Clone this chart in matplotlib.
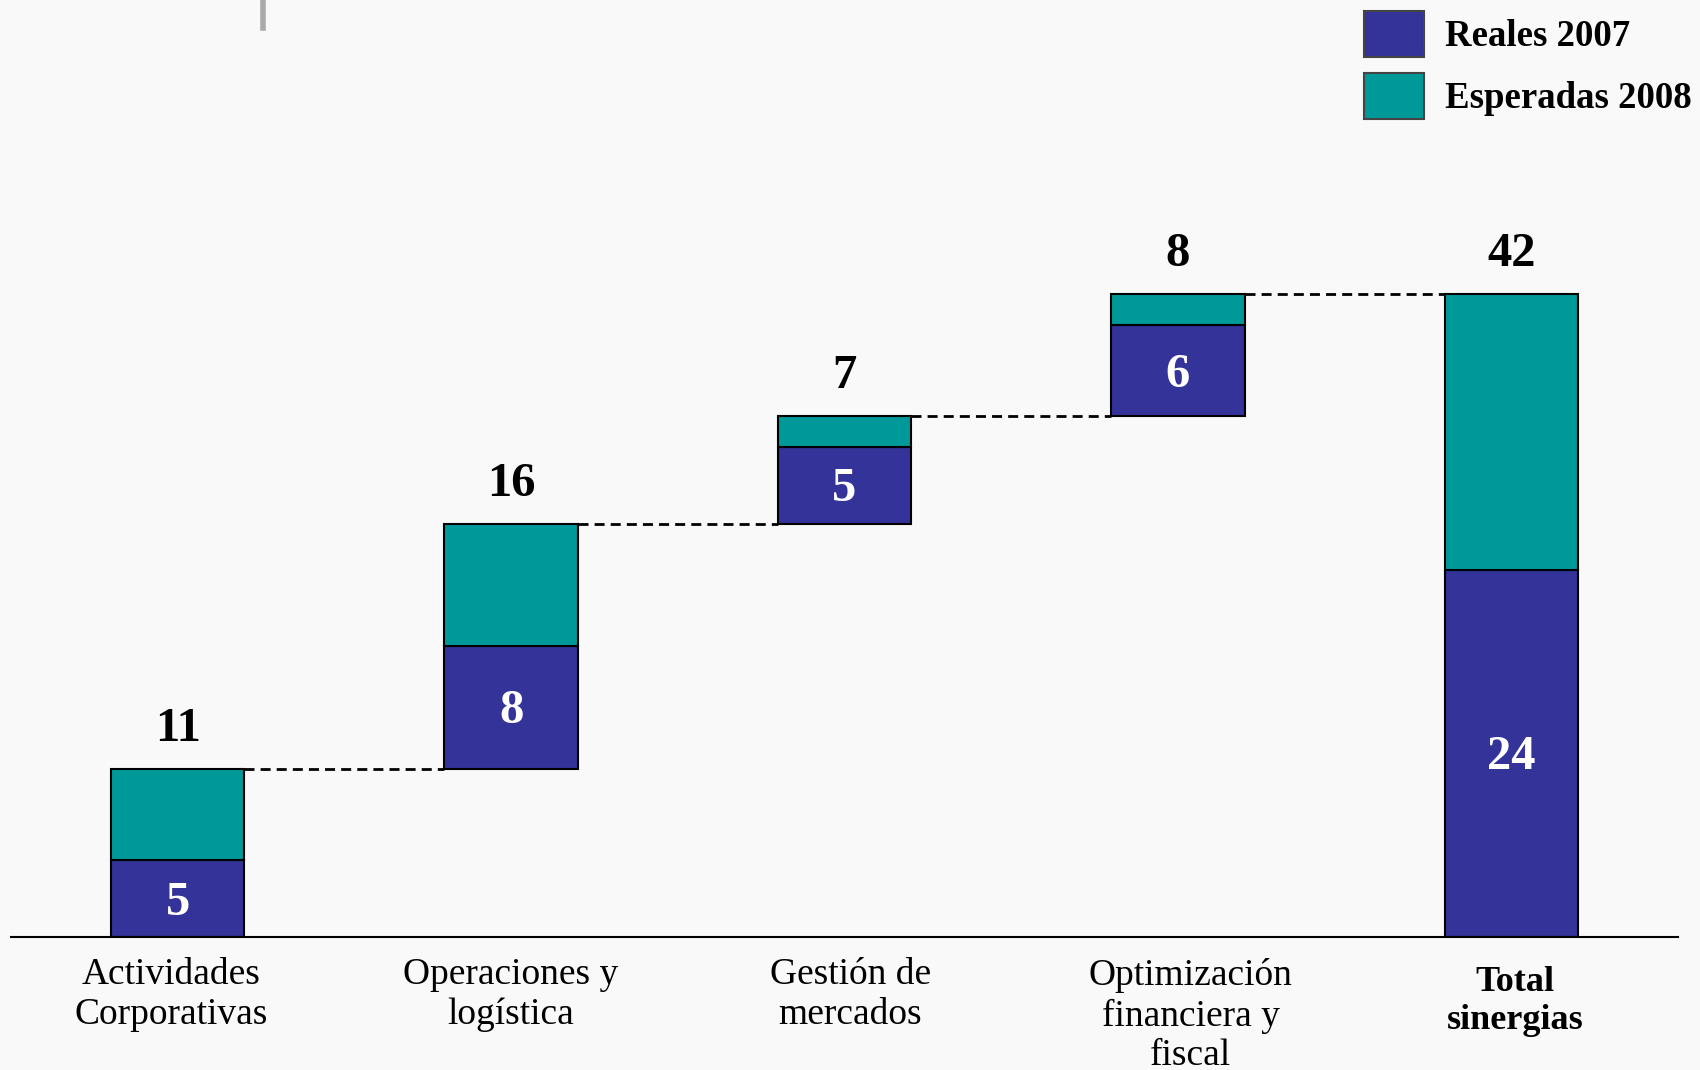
import matplotlib
matplotlib.use("Agg")
import matplotlib.pyplot as plt
from matplotlib.lines import Line2D

plt.rcParams['font.family'] = ['Liberation Serif', 'DejaVu Serif']

# ---- data ----
categories = ["Actividades\nCorporativas", "Operaciones y\nlogística", "Gestión de\nmercados",
              "Optimización\nfinanciera y\nfiscal", "Total\nsinergias"]
reales_2007 = [5, 8, 5, 6, 24]
esperadas_2008 = [6, 8, 2, 2, 18]
totals = [11, 16, 7, 8, 42]
series_labels = ["Reales 2007", "Esperadas 2008"]

# ---- style / layout ----
c_real = "#333399"
c_esp = "#009999"
bar_w = 0.4
label_dx = [-7, 0, 6, 13, 4]  # pixel nudges for category labels
label_dy = [0, 0, 0, 0, -8]

fig = plt.figure(figsize=(17, 10.7), dpi=100, facecolor="#f9f9f9")
ax = fig.add_axes([11/1700, 133/1070, (1678-11)/1700, (1070-133)/1070])
ax.set_facecolor("none")

n = len(categories)
x = list(range(n))
bases = []
run = 0
for i in range(n - 1):
    bases.append(run)
    run += totals[i]
bases.append(0)

b1 = ax.bar(x, reales_2007, bottom=bases, width=bar_w, color=c_real,
            edgecolor="black", linewidth=1.5, label=series_labels[0], zorder=3)
b2 = ax.bar(x, esperadas_2008, bottom=[b + r for b, r in zip(bases, reales_2007)],
            width=bar_w, color=c_esp, edgecolor="black", linewidth=1.5,
            label=series_labels[1], zorder=3)

# connectors
for i in range(n - 1):
    top = bases[i] + totals[i]
    ax.plot([i + bar_w/2, i + 1 - bar_w/2], [top, top], color="black",
            lw=2.0, ls=(0, (3.6, 2.2)), zorder=2)

# value labels
for i in range(n):
    top = bases[i] + totals[i]
    ax.annotate(str(totals[i]), xy=(i, top), xytext=(0, 28), textcoords="offset pixels",
                ha="center", va="baseline", fontsize=35, fontweight="bold", color="black")
    mid = bases[i] + reales_2007[i] / 2
    ax.annotate(str(reales_2007[i]), xy=(i, mid), xytext=(0, -16), textcoords="offset pixels",
                ha="center", va="baseline", fontsize=35, fontweight="bold", color="white",
                zorder=4)

# category labels
for i, lab in enumerate(categories):
    bold = (i == n - 1)
    ax.annotate(lab, xy=(i, 0), xycoords=("data", "axes fraction"),
                xytext=(label_dx[i], -21 + label_dy[i]), textcoords="offset pixels",
                ha="center", va="top", fontsize=27 if not bold else 26,
                fontweight="bold" if bold else "normal", linespacing=1.2,
                annotation_clip=False)

ax.axhline(0, color="black", lw=1.5, clip_on=False, zorder=5)
ax.set_xlim(-0.5, 4.5)
ax.set_ylim(0, 937/15.31)
ax.set_xticks([])
ax.set_yticks([])
for s in ax.spines.values():
    s.set_visible(False)

leg = fig.legend(handles=[b1, b2], labels=series_labels, loc="upper left",
                 bbox_to_anchor=(1364/1700, 1 - 11/1070), frameon=False,
                 prop={"family": ["Liberation Serif", "DejaVu Serif"], "weight": "bold", "size": 26.5},
                 handlelength=1.63, handleheight=1.54, handletextpad=0.57,
                 labelspacing=0.44, borderpad=0, borderaxespad=0)
for h in leg.legend_handles:
    h.set_edgecolor("#444444")

# small grey mark at the top
fig.add_artist(Line2D([263/1700, 263/1700], [1, 1 - 28/1070], color="#aaaaaa", lw=4))

fig.savefig("out.png", dpi=100, facecolor=fig.get_facecolor())
